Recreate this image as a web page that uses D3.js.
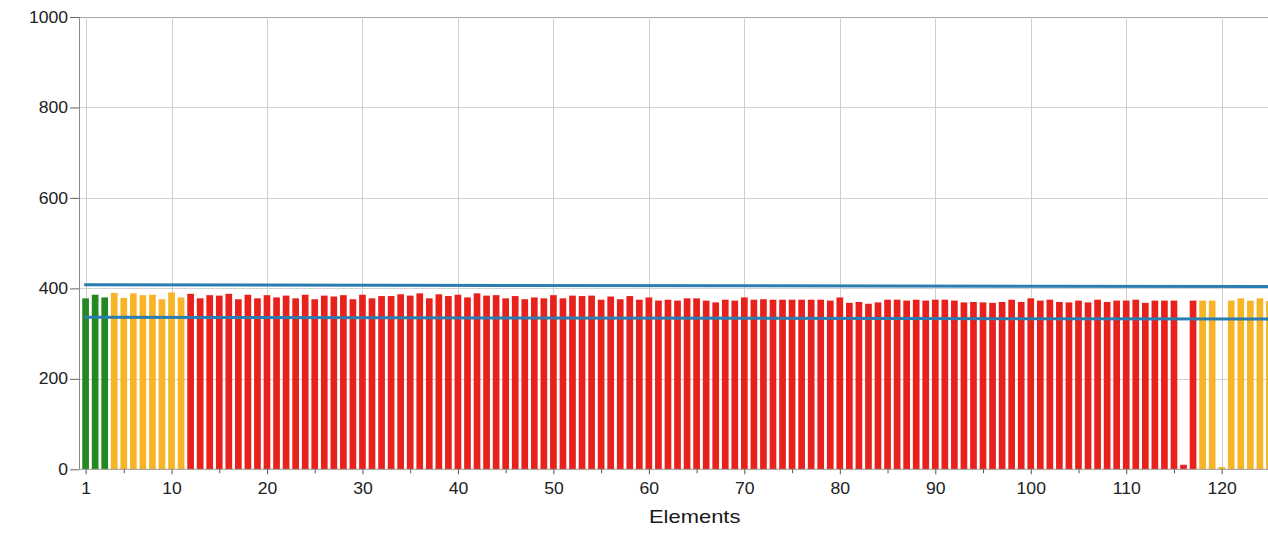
<!DOCTYPE html>
<html><head><meta charset="utf-8">
<script src="https://cdn.jsdelivr.net/npm/d3@7"></script>
<style>html,body{margin:0;padding:0;background:#fff;overflow:hidden}</style>
</head><body><svg id="c" width="1268" height="533"></svg>
<script>
// ---------- data ----------
const elements = d3.range(1, 126);
const values = [
  378, 386, 380, 390, 379, 389, 385, 386, 376, 391, 380,
  388, 378, 385, 384, 388, 376, 386, 378, 385,
  380, 384, 378, 386, 376, 384, 382, 385, 376, 386, 378, 383, 383, 387, 384, 389, 378, 387, 383, 386,
  380, 389, 384, 385, 378, 383, 376, 380, 378, 385, 378, 384, 383, 384, 375, 382, 376, 383, 375, 380, 373,
  375, 373, 378, 378, 373, 369, 375, 373, 380, 375, 376, 375, 375, 375, 375, 375, 375, 373, 380, 368,
  370, 366, 369, 375, 375, 373, 375, 373, 375, 375, 373, 369, 370, 369, 368, 370, 375, 370, 378, 373, 375,
  370, 369, 373, 369, 375, 370, 373, 373, 375, 368, 373, 373, 373, 10, 373, 373, 373, 5, 373, 378, 373, 378, 372
];
const statusRuns = [["green", 3], ["yellow", 8], ["red", 106], ["yellow", 8]];
const statusColors = { green: "#23891f", yellow: "#f6b426", red: "#e8211d" };
const upperLimit = [{ e: 0.85, v: 408 }, { e: 126, v: 404 }];
const lowerLimit = [{ e: 0.85, v: 336 }, { e: 126, v: 332 }];
const xTicks = [1, 10, 20, 30, 40, 50, 60, 70, 80, 90, 100, 110, 120];
const xMinorTicks = [5, 15, 25, 35, 45, 55, 65, 75, 85, 95, 105, 115];
const yTicks = [0, 200, 400, 600, 800, 1000];
const xTitle = "Elements";

// ---------- build ----------
const status = [];
statusRuns.forEach(([s, n]) => { for (let i = 0; i < n; i++) status.push(s); });
const data = elements.map((e, i) => ({ e, v: values[i], s: status[i] }));

const svg = d3.select("#c");
const x = d3.scaleLinear().domain([1, 120]).range([85.6, 1221.7]);
const y = d3.scaleLinear().domain([0, 1000]).range([469.3, 17]);
const xLeft = x(0.31), xRight = x(127);
const step = x(2) - x(1);
const bw = step * 0.7;

// grid
const grid = svg.append("g");
grid.selectAll("line.h").data(yTicks.filter(t => t > 0)).join("line")
  .attr("x1", xLeft).attr("x2", xRight)
  .attr("y1", d => Math.round(y(d)) + 0.5).attr("y2", d => Math.round(y(d)) + 0.5)
  .attr("stroke", d => d === 1000 ? "#a8a8a8" : "#d2d2d2").attr("stroke-width", 1);
grid.selectAll("line.v").data(xTicks).join("line")
  .attr("y1", y(1000)).attr("y2", y(0))
  .attr("x1", d => Math.round(x(d)) + 0.5).attr("x2", d => Math.round(x(d)) + 0.5)
  .attr("stroke", "#cfcfcf").attr("stroke-width", 1);

// bars
svg.append("g").selectAll("rect").data(data).join("rect")
  .attr("x", d => x(d.e) - bw / 2)
  .attr("width", bw)
  .attr("y", d => y(d.v))
  .attr("height", d => y(0) - y(d.v))
  .attr("fill", d => statusColors[d.s]);

// limit lines
const line = d3.line().x(d => x(d.e)).y(d => y(d.v));
[upperLimit, lowerLimit].forEach(l => {
  svg.append("path").datum(l).attr("d", line)
    .attr("fill", "none").attr("stroke", "#2a7db2").attr("stroke-width", 3);
});

const fontFam = "'Liberation Sans', Arial, sans-serif";

// y axis
const yAxis = svg.append("g").attr("transform", `translate(${xLeft},0)`)
  .call(d3.axisLeft(y).tickValues(yTicks).tickFormat(d3.format("d"))
    .tickSize(9).tickSizeOuter(0).tickPadding(1));
yAxis.select(".domain").attr("stroke", "#8a8a8a");
yAxis.selectAll(".tick line").attr("stroke", "#666");
yAxis.selectAll("text").attr("font-family", fontFam).attr("font-size", 16)
  .attr("fill", "#222").attr("transform", "scale(1.1,1)");

// x axis baseline
svg.append("line").attr("x1", xLeft).attr("x2", xRight)
  .attr("y1", y(0)).attr("y2", y(0)).attr("stroke", "#999");

const xAxis = svg.append("g").attr("transform", `translate(0,${y(0)})`)
  .call(d3.axisBottom(x).tickValues(xTicks).tickFormat(d3.format("d"))
    .tickSize(5).tickSizeOuter(0).tickPadding(8));
xAxis.select(".domain").remove();
xAxis.selectAll(".tick line").attr("stroke", "#555");
xAxis.selectAll("text").attr("font-family", fontFam).attr("font-size", 16)
  .attr("fill", "#222").attr("transform", "scale(1.1,1)");

const xMinor = svg.append("g").attr("transform", `translate(0,${y(0)})`)
  .call(d3.axisBottom(x).tickValues(xMinorTicks).tickSize(4).tickFormat(""));
xMinor.select(".domain").remove();
xMinor.selectAll(".tick line").attr("stroke", "#555");

// x title
svg.append("text").attr("x", 0).attr("y", 0)
  .attr("transform", `translate(${x(64.8)},523) scale(1.22,1)`)
  .attr("text-anchor", "middle").attr("font-family", fontFam).attr("font-size", 18)
  .attr("fill", "#1a1a1a").text(xTitle);
</script>
</body></html>
